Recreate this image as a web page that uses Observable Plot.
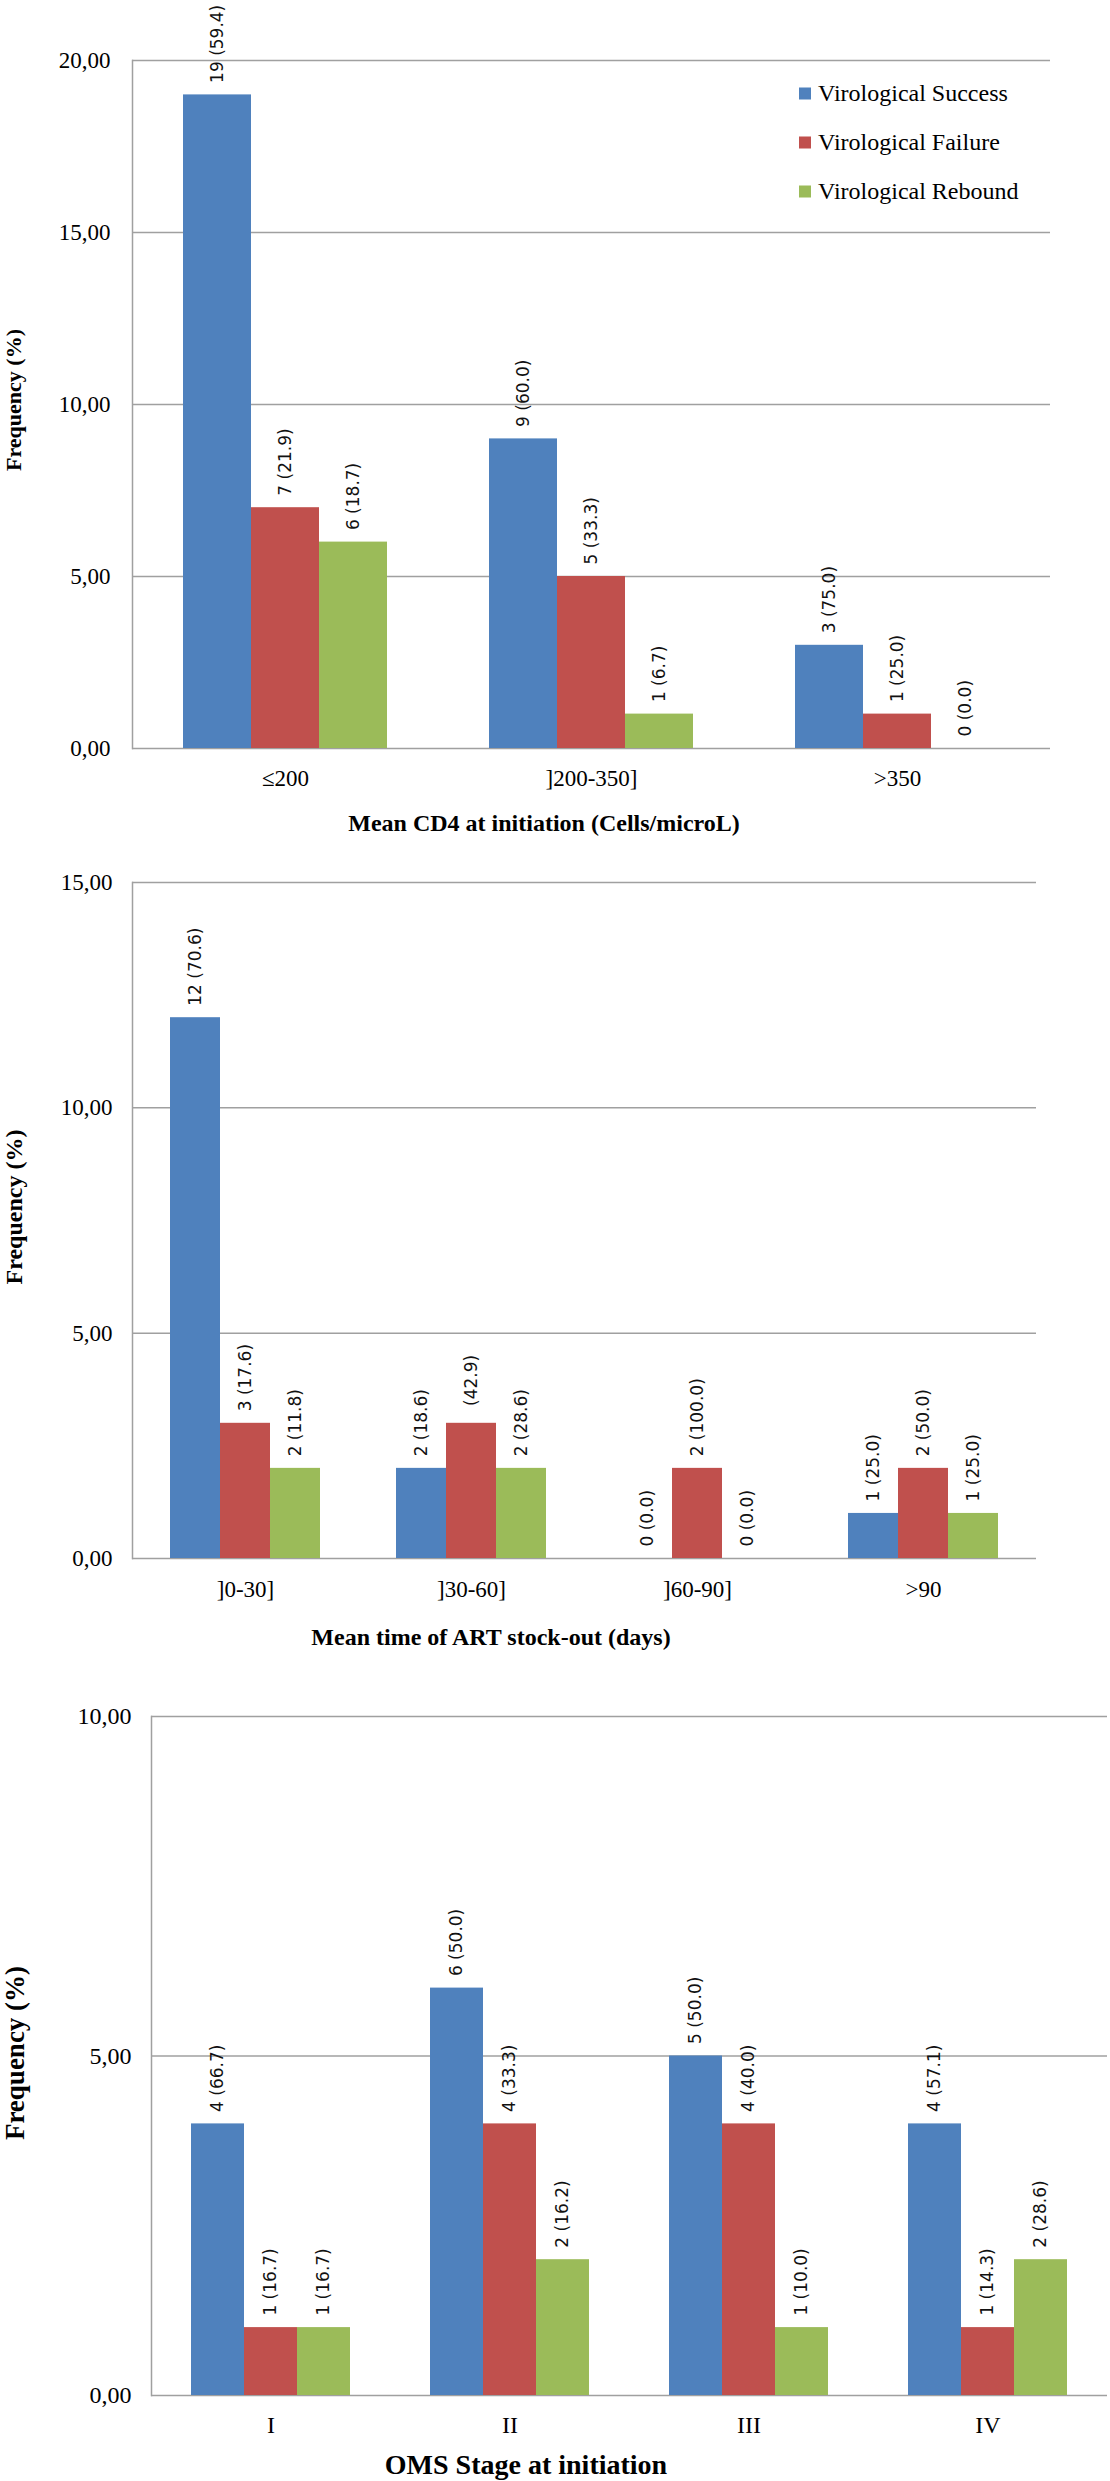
<!DOCTYPE html>
<html>
<head>
<meta charset="utf-8">
<script src="https://cdn.jsdelivr.net/npm/d3@7"></script>
<script src="https://cdn.jsdelivr.net/npm/@observablehq/plot@0.6"></script>
<style>
  html, body { margin: 0; padding: 0; background: #fff; }
  #root { position: relative; width: 1110px; height: 2481px; overflow: hidden; background: #fff; }
  .panel { position: absolute; left: 0; }
  .title { position: absolute; font-family: "Liberation Serif", "Times New Roman", serif; font-weight: bold; color: #000; white-space: nowrap; transform: translate(-50%, -50%); }
  .ytitle { position: absolute; font-family: "Liberation Serif", "Times New Roman", serif; font-weight: bold; color: #000; white-space: nowrap; transform: translate(-50%, -50%) rotate(-90deg); }
  .legend-row { position: absolute; display: flex; align-items: center; font-family: "Liberation Serif", "Times New Roman", serif; font-size: 24px; color: #000; white-space: nowrap; transform: translateY(-50%); }
  .swatch { width: 12px; height: 12px; margin-right: 7px; }
</style>
</head>
<body>
<div id="root"></div>
<script>
// ---------- Data ----------
const seriesNames = ["Virological Success", "Virological Failure", "Virological Rebound"];
const seriesColors = ["#4F81BD", "#C0504D", "#9BBB59"];

// Panel 1: Mean CD4 at initiation
const cd4Categories = ["≤200", "]200-350]", ">350"];
const cd4Success = [19, 9, 3];
const cd4SuccessPct = [59.4, 60.0, 75.0];
const cd4Failure = [7, 5, 1];
const cd4FailurePct = [21.9, 33.3, 25.0];
const cd4Rebound = [6, 1, 0];
const cd4ReboundPct = [18.7, 6.7, 0.0];
const cd4Ticks = [0, 5, 10, 15, 20];

// Panel 2: Mean time of ART stock-out
const stockCategories = ["]0-30]", "]30-60]", "]60-90]", ">90"];
const stockSuccess = [12, 2, 0, 1];
const stockSuccessPct = [70.6, 18.6, 0.0, 25.0];
const stockFailure = [3, 3, 2, 2];
const stockFailurePct = [17.6, 42.9, 100.0, 50.0];
const stockRebound = [2, 2, 0, 1];
const stockReboundPct = [11.8, 28.6, 0.0, 25.0];
// the reference prints this one label without its count
const stockLabelOverrides = {"]30-60]|Virological Failure": "\u00A0(42.9)"};
const stockTicks = [0, 5, 10, 15];

// Panel 3: OMS Stage at initiation
const omsCategories = ["I", "II", "III", "IV"];
const omsSuccess = [4, 6, 5, 4];
const omsSuccessPct = [66.7, 50.0, 50.0, 57.1];
const omsFailure = [1, 4, 4, 1];
const omsFailurePct = [16.7, 33.3, 40.0, 14.3];
const omsRebound = [1, 2, 1, 2];
const omsReboundPct = [16.7, 16.2, 10.0, 28.6];
const omsTicks = [0, 5, 10];

// ---------- Helpers ----------
function buildRows(cats, counts, pcts, overrides = {}) {
  const rows = [];
  cats.forEach((c, i) => {
    seriesNames.forEach((s, k) => {
      const key = c + "|" + s;
      const label = key in overrides ? overrides[key] : `${counts[k][i]} (${pcts[k][i].toFixed(1)})`;
      rows.push({cat: c, series: s, value: counts[k][i], label});
    });
  });
  return rows;
}
const fmt = d => d.toFixed(2).replace(".", ",");

function panel(cfg) {
  const rows = buildRows(cfg.cats, cfg.counts, cfg.pcts, cfg.overrides);
  const chart = Plot.plot({
    width: 1110,
    height: cfg.height,
    marginTop: cfg.mt,
    marginBottom: cfg.mb,
    marginLeft: cfg.ml,
    marginRight: cfg.mr,
    style: {fontFamily: '"Liberation Serif", "Times New Roman", serif', fontSize: cfg.tickFont + "px", color: "#000", background: "#fff", overflow: "visible"},
    fx: {domain: cfg.cats, paddingInner: 0, paddingOuter: 0, label: null},
    x: {domain: seriesNames, paddingInner: 0, paddingOuter: 0.75, axis: null},
    y: {domain: [0, cfg.yMax], label: null},
    color: {domain: seriesNames, range: seriesColors},
    marks: [
      Plot.gridY(cfg.ticks, {stroke: "#a0a0a0", strokeOpacity: 1, strokeWidth: 1.5}),
      Plot.frame({anchor: "left", facet: "super", stroke: "#a0a0a0", strokeWidth: 1.5}),
      Plot.barY(rows, {fx: "cat", x: "series", y: "value", fill: "series"}),
      Plot.text(rows, {fx: "cat", x: "series", y: "value", text: "label", rotate: -90, textAnchor: "start", dy: -12,
        fontFamily: '"DejaVu Sans", Verdana, sans-serif', fontSize: 17, fill: "#111"}),
      Plot.axisY(cfg.ticks, {tickFormat: fmt, tickSize: 0, tickPadding: cfg.yPad, label: null}),
      Plot.axisFx({anchor: "bottom", tickSize: 0, tickPadding: cfg.fxPad, label: null})
    ]
  });
  const wrap = document.createElement("div");
  wrap.className = "panel";
  wrap.style.top = cfg.top + "px";
  wrap.appendChild(chart);
  root.appendChild(wrap);

  const xt = document.createElement("div");
  xt.className = "title";
  xt.textContent = cfg.xTitle;
  xt.style.left = cfg.xTitlePos[0] + "px";
  xt.style.top = cfg.xTitlePos[1] + "px";
  xt.style.fontSize = cfg.xTitleSize + "px";
  root.appendChild(xt);

  const yt = document.createElement("div");
  yt.className = "ytitle";
  yt.textContent = "Frequency (%)";
  yt.style.left = cfg.yTitlePos[0] + "px";
  yt.style.top = cfg.yTitlePos[1] + "px";
  yt.style.fontSize = cfg.yTitleSize + "px";
  root.appendChild(yt);
}

const root = document.getElementById("root");

panel({
  cats: cd4Categories,
  counts: [cd4Success, cd4Failure, cd4Rebound],
  pcts: [cd4SuccessPct, cd4FailurePct, cd4ReboundPct],
  ticks: cd4Ticks, yMax: 20,
  top: 0, height: 850, mt: 60, mb: 102, ml: 131, mr: 59,
  tickFont: 23, yPad: 22, fxPad: 21,
  xTitle: "Mean CD4 at initiation (Cells/microL)", xTitlePos: [544, 823], xTitleSize: 24,
  yTitlePos: [14, 400], yTitleSize: 22
});

panel({
  cats: stockCategories,
  counts: [stockSuccess, stockFailure, stockRebound],
  pcts: [stockSuccessPct, stockFailurePct, stockReboundPct],
  overrides: stockLabelOverrides,
  ticks: stockTicks, yMax: 15,
  top: 850, height: 850, mt: 32, mb: 142, ml: 131, mr: 73,
  tickFont: 23, yPad: 20, fxPad: 22,
  xTitle: "Mean time of ART stock-out (days)", xTitlePos: [491, 1637], xTitleSize: 24,
  yTitlePos: [14, 1207], yTitleSize: 24
});

panel({
  cats: omsCategories,
  counts: [omsSuccess, omsFailure, omsRebound],
  pcts: [omsSuccessPct, omsFailurePct, omsReboundPct],
  ticks: omsTicks, yMax: 10,
  top: 1700, height: 781, mt: 16, mb: 86, ml: 150, mr: 2,
  tickFont: 24, yPad: 20, fxPad: 20,
  xTitle: "OMS Stage at initiation", xTitlePos: [526, 2465], xTitleSize: 28,
  yTitlePos: [15, 2053], yTitleSize: 27
});

// Legend (inside first panel)
const legendYs = [93, 142, 191];
seriesNames.forEach((s, k) => {
  const row = document.createElement("div");
  row.className = "legend-row";
  row.style.left = "799px";
  row.style.top = legendYs[k] + "px";
  const sw = document.createElement("div");
  sw.className = "swatch";
  sw.style.background = seriesColors[k];
  const tx = document.createElement("span");
  tx.textContent = s;
  row.appendChild(sw);
  row.appendChild(tx);
  root.appendChild(row);
});
</script>
</body>
</html>
